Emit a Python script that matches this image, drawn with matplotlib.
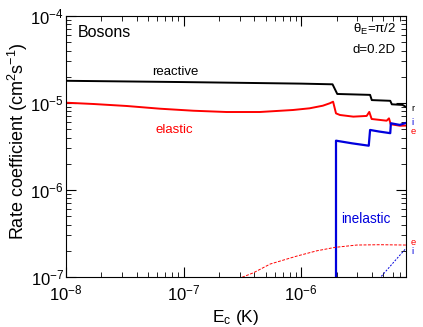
import numpy as np
import matplotlib
matplotlib.use("Agg")
import matplotlib.pyplot as plt

plt.rcParams['font.family'] = ['Liberation Sans', 'DejaVu Sans']
plt.rcParams['mathtext.default'] = 'regular'

# reactive rate (black)
E_reac = [1e-8, 1e-7, 1e-6, 1.85e-6, 2.03e-6, 3.86e-6, 3.99e-6, 5.73e-6, 5.91e-6, 7.3e-6, 7.8e-6]
k_reac = [1.80e-5, 1.74e-5, 1.67e-5, 1.64e-5, 1.27e-5, 1.24e-5, 1.08e-5, 1.06e-5, 9.66e-6, 9.5e-6, 9.0e-6]

# elastic rate (red)
E_el = [1e-8, 1.71e-8, 3.28e-8, 6.29e-8, 1.21e-7, 2.32e-7, 4.45e-7, 8.53e-7, 1.18e-6,
        1.53e-6, 1.75e-6, 1.87e-6, 1.98e-6,
        2.14e-6, 2.78e-6, 3.61e-6, 3.80e-6, 3.98e-6, 5.34e-6, 5.59e-6, 5.78e-6, 6.93e-6, 7.8e-6]
k_el = [1.008e-5, 9.74e-6, 9.24e-6, 8.6e-6, 8.15e-6, 7.88e-6, 7.88e-6, 8.31e-6, 8.69e-6,
        9.31e-6, 9.92e-6, 1.035e-5, 7.6e-6,
        7.28e-6, 6.97e-6, 7.1e-6, 7.9e-6, 6.55e-6, 6.26e-6, 6.66e-6, 5.7e-6, 5.48e-6, 5.5e-6]

# inelastic rate (blue), zero below threshold
E_inel = [1.98e-6, 1.98e-6, 2.71e-6, 3.76e-6, 3.86e-6, 4.6e-6, 5.73e-6, 5.80e-6, 6.9e-6, 7.8e-6]
k_inel = [1e-9, 3.69e-6, 3.44e-6, 3.23e-6, 4.9e-6, 4.7e-6, 4.5e-6, 5.85e-6, 5.6e-6, 5.9e-6]

# dashed curves (second set)
E_el2 = [2.9e-7, 3.94e-7, 5.46e-7, 9.2e-7, 1.36e-6, 1.94e-6, 2.97e-6, 4.69e-6, 7.8e-6]
k_el2 = [9.5e-8, 1.12e-7, 1.41e-7, 1.74e-7, 2.0e-7, 2.19e-7, 2.33e-7, 2.35e-7, 2.33e-7]
E_inel2 = [4.6e-6, 6.08e-6, 7.8e-6]
k_inel2 = [9.5e-8, 1.46e-7, 2.14e-7]

fig = plt.figure(figsize=(4.23, 3.27), dpi=100)
ax = fig.add_axes([66/423, 50/327, 340/423, 261/327])

ax.plot(E_reac, k_reac, color='black', lw=1.4)
ax.plot(E_el, k_el, color='red', lw=1.4)
ax.plot(E_inel, k_inel, color='#0000dd', lw=1.6)
ax.plot(E_el2, k_el2, color='red', lw=0.7, ls=(0, (3, 1.5)))
ax.plot(E_inel2, k_inel2, color='#0000dd', lw=0.7, ls=(0, (2, 1.5)))

ax.set_xscale('log')
ax.set_yscale('log')
ax.set_xlim(1e-8, 7.8e-6)
ax.set_ylim(1e-7, 1e-4)

ax.tick_params(which='both', direction='in', top=True, right=True, labelsize=12)
ax.tick_params(which='major', length=7, width=0.8)
ax.tick_params(which='minor', length=3.5, width=0.6)
ax.tick_params(axis='y', pad=1.5)
ax.tick_params(axis='x', pad=5)
for s in ax.spines.values():
    s.set_linewidth(0.8)

ax.set_xlabel('E$_c$ (K)', fontsize=12.5, labelpad=3)
ax.set_ylabel('Rate coefficient (cm$^2$s$^{-1}$)', fontsize=13)
ax.yaxis.set_label_coords(-0.105, 0.52)

tr = ax.transAxes
ax.text(0.034, 0.918, 'Bosons', fontsize=11.5, transform=tr)
ax.text(0.322, 0.774, 'reactive', fontsize=9.5, ha='center', transform=tr)
ax.text(0.318, 0.553, 'elastic', fontsize=9.5, ha='center', color='red', transform=tr)
ax.text(0.882, 0.206, 'inelastic', fontsize=9.8, ha='center', color='#0000dd', transform=tr)
ax.text(0.843, 0.934, 'θ$_E$=π/2', fontsize=9.5, transform=tr)
ax.text(0.843, 0.857, 'd=0.2D', fontsize=9.5, transform=tr)

# end-of-curve markers on the right
side = [('r', 108.3, 'black'), ('i', 122.5, '#0000dd'), ('e', 132.0, 'red'),
        ('e', 242.7, 'red'), ('i', 251.7, '#0000dd')]
for lab, py, c in side:
    ax.text(1.015, (277 - py) / 261, lab, fontsize=6.8, color=c, va='center', transform=tr)

fig.savefig('out.png', dpi=100)
